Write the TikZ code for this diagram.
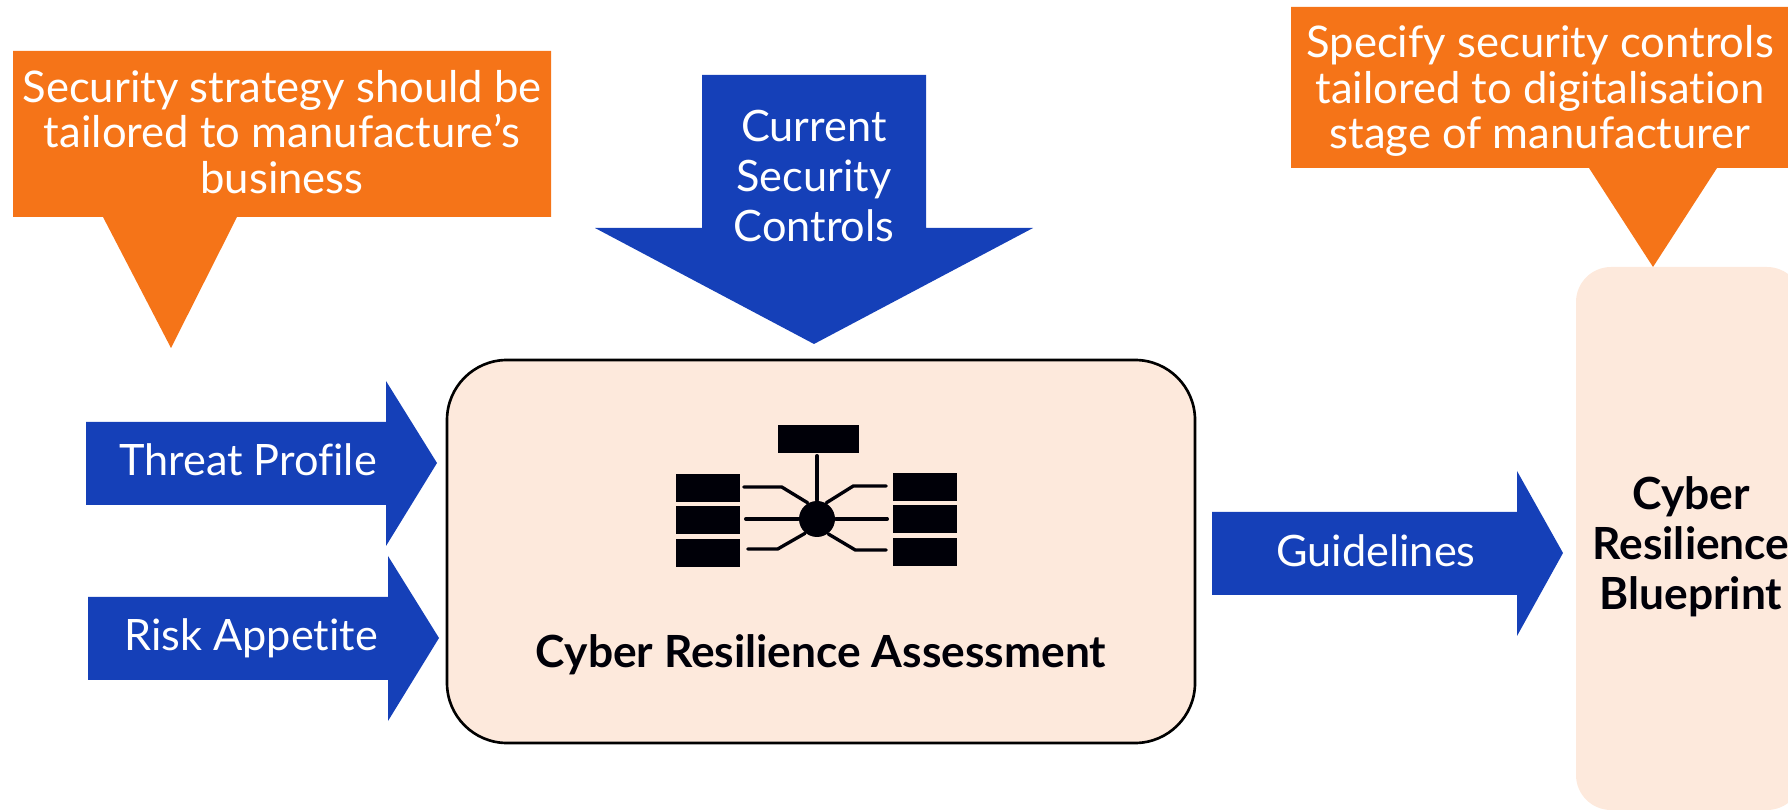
\documentclass[tikz,border=0pt]{standalone}
\usepackage{fontspec}
\setmainfont{Lato}[Ligatures=NoCommon]
\definecolor{calloutorange}{HTML}{F57418}
\definecolor{arrowblue}{HTML}{1540B8}
\definecolor{panelpeach}{HTML}{FDE9DC}
\definecolor{iconblack}{HTML}{000008}
\tikzstyle{callout} = [fill=calloutorange]
\tikzstyle{bluearrow} = [fill=arrowblue]
\tikzstyle{calloutext} = [text=white, align=center, inner sep=0pt, font=\fontsize{12.4}{13}\selectfont]
\tikzstyle{arrowtext} = [text=white, align=center, inner sep=0pt, font=\fontsize{12.3}{14.2}\selectfont]
\tikzstyle{heading} = [text=iconblack, align=center, inner sep=0pt, font=\fontsize{12.6}{14.2}\selectfont\bfseries]
\tikzstyle{rack} = [fill=iconblack, minimum width=64*0.01cm, minimum height=28*0.01cm, inner sep=0pt]
\tikzstyle{wire} = [draw=iconblack, line width=.95pt, line cap=round, line join=round]

\begin{document}
\begin{tikzpicture}[x=0.01cm,y=-0.01cm]
    \useasboundingbox (0,0) rectangle (1788,810);
    % callouts
    \fill [callout] (13,51) -- (551,51) -- (551,217) -- (237,217) -- (171,348) -- (103,217) -- (13,217) -- cycle;
    \fill [callout] (1291,7) -- (1788,7) -- (1788,168) -- (1717,168) -- (1653,267) -- (1589,168) -- (1291,168) -- cycle;
    \node [calloutext] (strategy) at (282,132) {Security strategy should be\\tailored to manufacture's\\business};
    \node [calloutext] (controls) at (1540,91) {Specify security controls\\tailored to digitalisation\\stage of manufacturer};
    % blueprint panel runs off the page
    \begin{scope}
        \clip (0,0) rectangle (1788,810);
        \fill [panelpeach, rounded corners=35*0.01cm] (1576,267) rectangle (1802,810);
    \end{scope}
    \node [heading] (blueprint) at (1691,547) {Cyber\\Resilience\\Blueprint};
    % assessment box
    \draw [fill=panelpeach, line width=.75pt, rounded corners=60*0.01cm] (447,360) rectangle (1195,743);
    \node [heading] (assessment) at (821,655) {Cyber Resilience Assessment};
    % arrows
    \fill [bluearrow] (702,75) -- (926,75) -- (926,228) -- (1033,228) -- (814,344) -- (595,228) -- (702,228) -- cycle;
    \fill [bluearrow] (86,422) -- (386,422) -- (386,381) -- (437,463) -- (386,546) -- (386,505) -- (86,505) -- cycle;
    \fill [bluearrow] (88,597) -- (388,597) -- (388,556) -- (439,638) -- (388,721) -- (388,680) -- (88,680) -- cycle;
    \fill [bluearrow] (1212,512) -- (1517,512) -- (1517,471) -- (1563,553) -- (1517,636) -- (1517,595) -- (1212,595) -- cycle;
    \node [arrowtext] (current) at (814,176) {Current\\Security\\Controls};
    \node [arrowtext] (threat) at (248,460) {Threat Profile};
    \node [arrowtext] (risk) at (251,638) {Risk Appetite};
    \node [arrowtext] (guidelines) at (1376,551) {Guidelines};
    % network icon
    \node [rack, minimum width=81*0.01cm] (top) at (818.5,439) {};
    \node [rack] (la) at (708,488) {};
    \node [rack] (lb) at (708,520) {};
    \node [rack] (lc) at (708,553) {};
    \node [rack] (ra) at (925,487) {};
    \node [rack] (rb) at (925,519) {};
    \node [rack] (rc) at (925,552) {};
    \node [circle, fill=iconblack, minimum size=36*0.01cm, inner sep=0pt] (hub) at (817,519) {};
    \draw [wire] ([shift={(-1.5,2)}]top.south) -- (hub.north);
    \draw [wire] ([shift={(3,-1)}]la.east) -- ++(38,0) -- (hub.120);
    \draw [wire] ([shift={(5,-1)}]lb.east) -- (hub.west);
    \draw [wire] ([shift={(7,-4)}]lc.east) -- ++(30,0) -- (hub.230);
    \draw [wire] ([shift={(-6,-1)}]ra.west) -- ++(-33,0) -- (hub.60);
    \draw [wire] ([shift={(-5,0)}]rb.west) -- (hub.east);
    \draw [wire] ([shift={(-6,-2)}]rc.west) -- ++(-31,0) -- (hub.-53);
\end{tikzpicture}
\end{document}
